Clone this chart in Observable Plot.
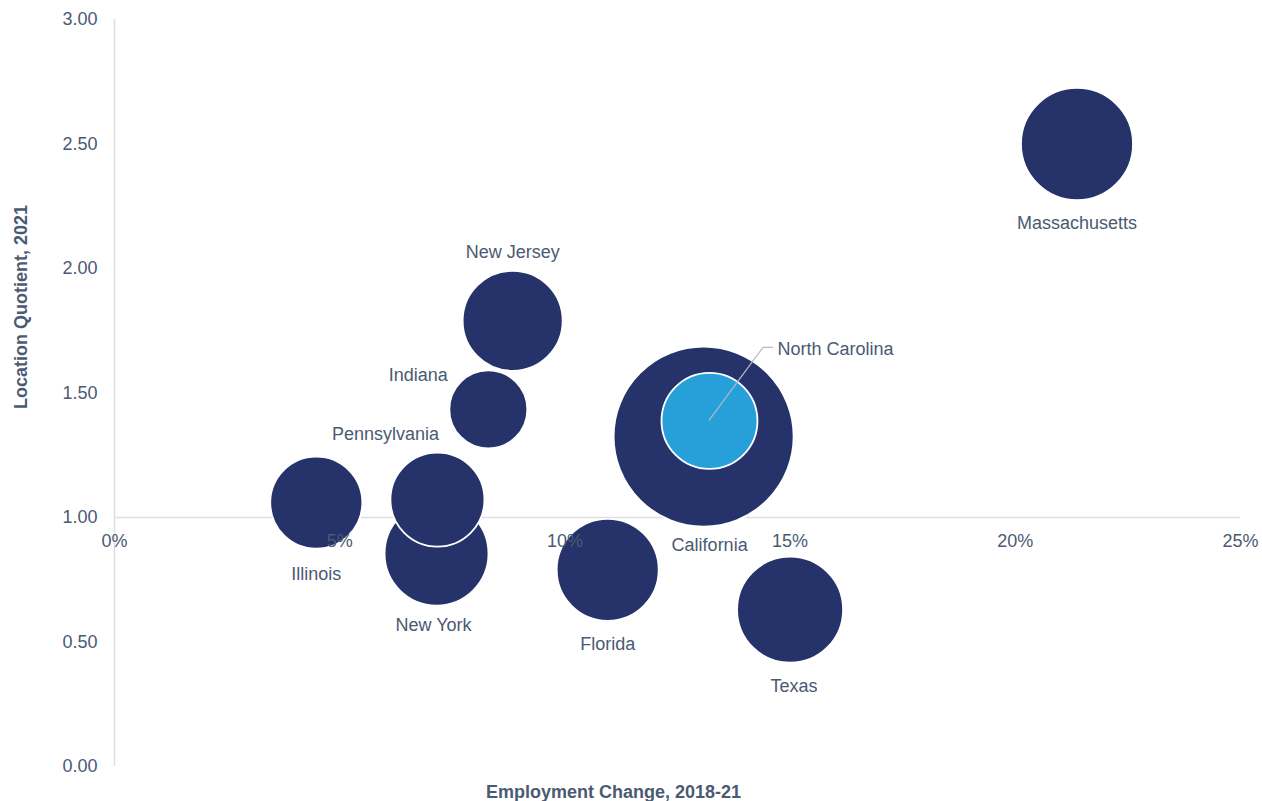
<!DOCTYPE html>
<html>
<head>
<meta charset="utf-8">
<script src="https://cdn.jsdelivr.net/npm/d3@7"></script>
<script src="https://cdn.jsdelivr.net/npm/@observablehq/plot@0.6"></script>
<style>
  html, body { margin: 0; padding: 0; background: #fff; }
  #chart svg { display: block; }
</style>
</head>
<body>
<div id="chart"></div>
<script>
// ---- data ----
const states = ["California", "North Carolina", "Massachusetts", "New Jersey", "Indiana", "Illinois", "New York", "Pennsylvania", "Florida", "Texas"];
const employmentChange = [13.08, 13.21, 21.37, 8.84, 8.30, 4.48, 7.15, 7.17, 10.95, 15.0];   // % change 2018-21
const locationQuotient = [1.325, 1.388, 2.50, 1.79, 1.434, 1.06, 0.855, 1.072, 0.79, 0.63];
const employmentSize = [81.0, 23.0, 31.4, 25.0, 15.2, 21.2, 27.0, 22.1, 26.0, 28.1];          // relative bubble size
const xTicks = [0, 5, 10, 15, 20, 25];
const yTicks = [0, 0.5, 1, 1.5, 2, 2.5, 3];

const data = states.map((s, i) => ({
  state: s, x: employmentChange[i], y: locationQuotient[i], size: employmentSize[i],
  highlight: s === "North Carolina"
}));

// label placement (pixel offsets from bubble centre)
const placement = {
  "Massachusetts": {dx: 0, dy: 79},
  "New Jersey": {dx: 0, dy: -69},
  "Indiana": {dx: -70, dy: -34},
  "Pennsylvania": {dx: -52, dy: -65},
  "Illinois": {dx: 0, dy: 72},
  "New York": {dx: -3, dy: 72},
  "Florida": {dx: 0, dy: 74},
  "Texas": {dx: 4, dy: 77},
  "California": {dx: 6, dy: 109},
  "North Carolina": {dx: 68, dy: -72, anchor: "start"}
};

const navy = "#25336a", blue = "#279fd9", textCol = "#4b5a73", axisCol = "#dcdfe2";
const font = "'Liberation Sans', Arial, Helvetica, sans-serif";

const labelMarks = data.map(d => {
  const p = placement[d.state];
  return Plot.text([d], {
    x: "x", y: "y", text: "state", dx: p.dx, dy: p.dy,
    textAnchor: p.anchor || "middle", fill: textCol, fontSize: 18
  });
});

// leader line for North Carolina, computed from the scales
const nc = data.find(d => d.highlight);
const leader = (index, scales) => {
  const x0 = scales.x(nc.x), y0 = scales.y(nc.y);
  const path = document.createElementNS("http://www.w3.org/2000/svg", "path");
  path.setAttribute("d", `M${x0},${y0}L${x0 + 54},${y0 - 73}L${x0 + 64},${y0 - 73}`);
  path.setAttribute("fill", "none");
  path.setAttribute("stroke", "#b3bac5");
  path.setAttribute("stroke-width", "1.2");
  return path;
};

const chart = Plot.plot({
  width: 1262,
  height: 801,
  marginLeft: 114,
  marginRight: 22,
  marginTop: 19,
  marginBottom: 35,
  style: {fontFamily: font, background: "#fff", overflow: "visible"},
  x: {domain: [0, 25], axis: null},
  y: {domain: [0, 3], axis: null},
  r: {type: "sqrt", domain: [0, 81], range: [0, 90]},
  marks: [
    Plot.ruleX([0], {y1: 0, y2: 3, stroke: axisCol, strokeWidth: 1.5}),
    Plot.ruleY([1], {x1: 0, x2: 25, stroke: axisCol, strokeWidth: 1.5}),
    Plot.text(yTicks, {x: 0, y: d => d, text: d => d3.format(".2f")(d), dx: -17, textAnchor: "end", fill: textCol, fontSize: 18}),
    Plot.dot(data, {x: "x", y: "y", r: "size", fill: d => d.highlight ? blue : navy, stroke: "#fff", strokeWidth: 1.8}),
    Plot.text(xTicks, {x: d => d, y: 1, text: d => d + "%", dy: 24, fill: textCol, fontSize: 18}),
    leader,
    ...labelMarks,
    Plot.text(["Employment Change, 2018-21"], {frameAnchor: "bottom", text: d => d, dx: -64, dy: 31, fontWeight: "bold", fill: textCol, fontSize: 18}),
    Plot.text(["Location Quotient, 2021"], {frameAnchor: "left", textAnchor: "middle", lineAnchor: "middle", text: d => d, rotate: -90, dx: -93, dy: -86, fontWeight: "bold", fill: textCol, fontSize: 18})
  ]
});
document.getElementById("chart").appendChild(chart);
</script>
</body>
</html>
